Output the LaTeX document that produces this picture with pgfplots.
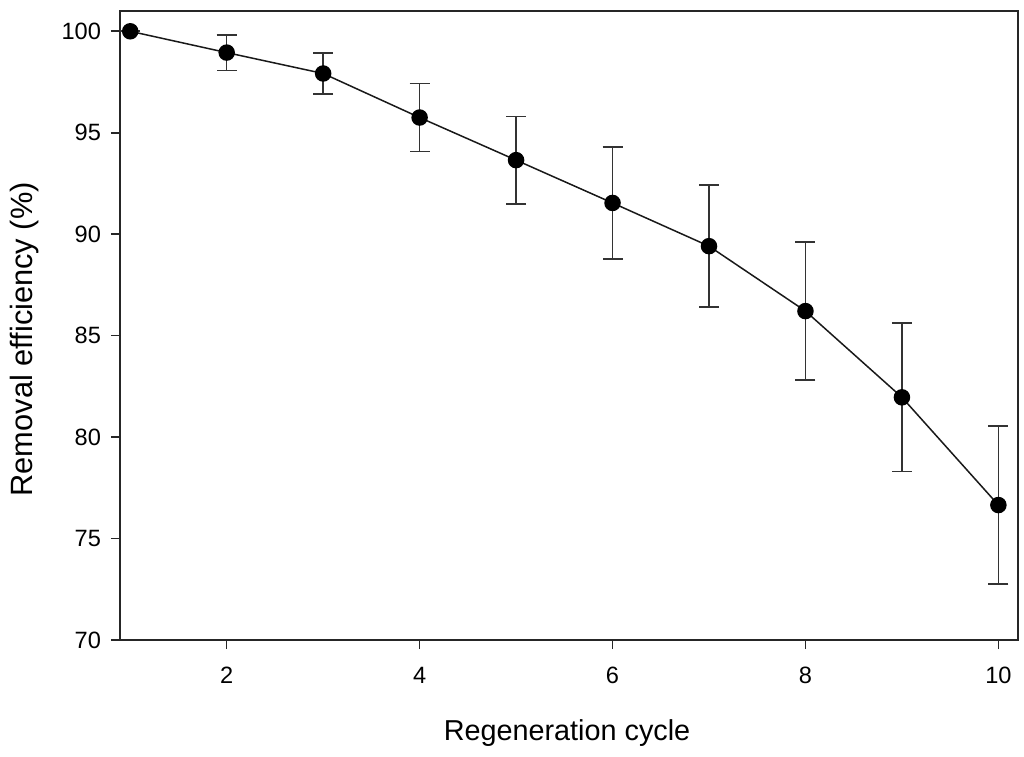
\documentclass[border=0pt]{standalone}
\usepackage{fontspec}
\setmainfont{Liberation Sans}
\usepackage{pgfplots}
\pgfplotsset{compat=1.18}
\begin{document}
\begin{tikzpicture}[x=1pt,y=1pt]
\path[use as bounding box] (0,0) rectangle (512,378);
\begin{axis}[
  at={(60pt,58pt)}, anchor=south west,
  scale only axis, width=448.85pt, height=314.5pt,
  xmin=0.894, xmax=10.2, ymin=70, ymax=101,
  xtick={2,4,6,8,10}, ytick={70,75,...,100},
  xtick pos=bottom, ytick pos=left,
  tick align=outside, major tick length=4.5pt,
  axis line style={line width=1pt, black!85},
  every tick/.style={line width=0.8pt, black!85},
  /pgf/number format/assume math mode=true,
  ticklabel style={font=\fontsize{11.8}{13}\selectfont},
  yticklabel style={xshift=-1.5pt},
  xticklabel style={yshift=-5.5pt},
  xlabel={Regeneration cycle},
  ylabel={Removal efficiency (\%)},
  xlabel style={font=\fontsize{14.4}{16}\selectfont, at={(axis description cs:0.498,-0.159)}, anchor=base, inner sep=0pt},
  ylabel style={font=\fontsize{15.4}{17}\selectfont, at={(axis description cs:-0.1225,0.478)}, anchor=north, rotate=0, inner sep=0pt},
  clip=false,
]
\addplot[black!90, line width=0.75pt, mark=*, mark size=3.75pt,
  mark options={fill=black, draw=black},
  error bars/.cd, y dir=both, y explicit,
  error bar style={line width=0.8pt, black!80},
  error mark options={rotate=90, mark size=5pt, line width=0.8pt, black!80}]
 table[x=x, y=y, y error=e] {
x y e
1 100 0
2 98.95 0.88
3 97.92 1.0
4 95.75 1.67
5 93.65 2.15
6 91.54 2.75
7 89.41 3.0
8 86.21 3.4
9 81.96 3.66
10 76.65 3.9
};
\end{axis}
\end{tikzpicture}
\end{document}
